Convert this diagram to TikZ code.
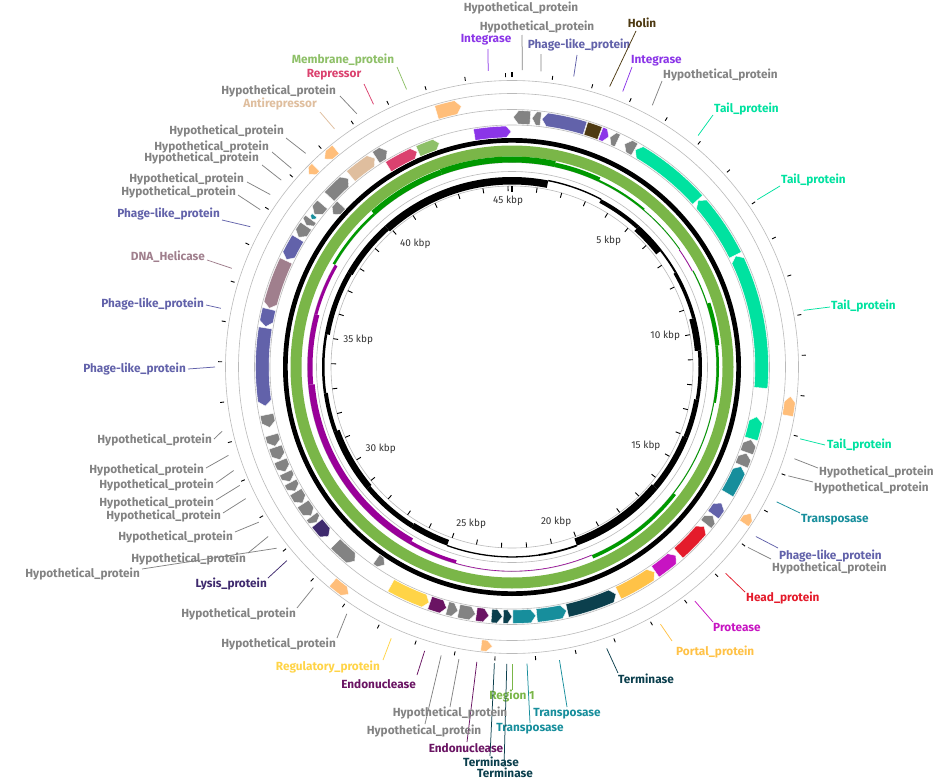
\documentclass[tikz,border=0pt]{standalone}
\usepackage{fontspec}
\setmainfont{Fira Sans}
\definecolor{cTail}{HTML}{00E2A0}
\definecolor{cHyp}{HTML}{838383}
\definecolor{cPhage}{HTML}{6262AA}
\definecolor{cHolin}{HTML}{4E3A12}
\definecolor{cInteg}{HTML}{8B35E8}
\definecolor{cTransp}{HTML}{178E9C}
\definecolor{cHead}{HTML}{E41B2B}
\definecolor{cProt}{HTML}{C714C2}
\definecolor{cPortal}{HTML}{FFC247}
\definecolor{cTerm}{HTML}{0B3F4D}
\definecolor{cEndo}{HTML}{6A1463}
\definecolor{cRegul}{HTML}{FFD447}
\definecolor{cLysis}{HTML}{3F2A6E}
\definecolor{cHelic}{HTML}{A07F8D}
\definecolor{cAntir}{HTML}{DFBE9E}
\definecolor{cRepr}{HTML}{DB426F}
\definecolor{cMembr}{HTML}{8EC068}
\definecolor{cRegion}{HTML}{7AB648}
\definecolor{cOrange}{HTML}{FFBE7A}
\definecolor{cSkP}{HTML}{009900}
\definecolor{cSkN}{HTML}{990099}
\tikzset{
  circ/.style={draw=black!27, line width=0.6pt},
  tickm/.style={line width=0.9pt, draw=black},
  leader/.style={line width=0.75pt},
  lbl/.style={font=\fontsize{11.8}{13}\selectfont\bfseries, inner sep=1pt},
  kbp/.style={font=\fontsize{10}{12}\selectfont, text=black!80, inner sep=1pt},
  featsty/.style={draw=white, line width=0.4pt}
}
% feature: color, th1, th2, rin, rout, dir (1 fwd, -1 rev, 0 none)
\newcommand\feat[6]{%
  \pgfmathsetmacro\fa{#2-90}%
  \pgfmathsetmacro\fb{#3-90}%
  \pgfmathsetmacro\fm{(#4+#5)/2}%
  \pgfmathsetmacro\fh{min(1.2,(#3-#2)*0.5)}%
  \ifnum#6=1\relax
    \pgfmathsetmacro\ft{\fb-\fh}%
    \filldraw[featsty,fill=#1] (\fa:#5) arc[start angle=\fa,end angle=\ft,radius=#5] -- (\fb:\fm) -- (\ft:#4) arc[start angle=\ft,end angle=\fa,radius=#4] -- cycle;
  \else
    \ifnum#6=-1\relax
      \pgfmathsetmacro\ft{\fa+\fh}%
      \filldraw[featsty,fill=#1] (\ft:#5) arc[start angle=\ft,end angle=\fb,radius=#5] -- (\fb:#4) arc[start angle=\fb,end angle=\ft,radius=#4] -- (\fa:\fm) -- cycle;
    \else
      \filldraw[featsty,fill=#1] (\fa:#5) arc[start angle=\fa,end angle=\fb,radius=#5] -- (\fb:#4) arc[start angle=\fb,end angle=\fa,radius=#4] -- cycle;
    \fi
  \fi}
% plot segment: color, th1, th2, rin, rout
\newcommand\segm[5]{%
  \pgfmathsetmacro\fa{#2-90}%
  \pgfmathsetmacro\fb{#3-90}%
  \fill[#1] (\fa:#5) arc[start angle=\fa,end angle=\fb,radius=#5] -- (\fb:#4) arc[start angle=\fb,end angle=\fa,radius=#4] -- cycle;}
% label: name, color, theta, endx, endy, anchor, lx, ly, text
\newcommand\lab[9]{%
  \pgfmathsetmacro\lsx{512+297*sin(#3)}%
  \pgfmathsetmacro\lsy{367-297*cos(#3)}%
  \coordinate (#1s) at (\lsx,\lsy);
  \coordinate (#1e) at (#4,#5);
  \draw[leader,#2] (#1s) -- (#1e);
  \node[lbl,text=#2,anchor=#6] (#1) at (#7,#8) {#9};}
\def\ra{243}\def\rb{256.5}
\def\rc{229.5}\def\rd{241}
\begin{document}
\begin{tikzpicture}[x=1pt,y=-1pt]
\useasboundingbox (0,0) rectangle (951,779);
\fill[white] (0,0) rectangle (951,779);
\begin{scope}[shift={(512,367)}]
  % guide circles
  \foreach \r in {286.5,273.5,257.5,242,204.5,195.5,181}{\draw[circ] (0,0) circle[radius=\r];}
  % backbone and region ring
  \fill[black,even odd rule] (0,0) circle[radius=229] (0,0) circle[radius=224.3];
  \fill[cRegion,even odd rule] (0,0) circle[radius=221.5] (0,0) circle[radius=210.5];
  % ticks
  \foreach \k in {0,...,45}{%
    \pgfmathsetmacro\ta{\k*360/45.16-90}%
    \draw[tickm] (\ta:290) -- (\ta:294);
    \draw[tickm] (\ta:181) -- (\ta:176);}
  \draw[line width=1.6pt] (-90:290) -- (-90:295.5);
  \draw[line width=1.6pt] (-90:181) -- (-90:175);
  % kbp labels
  \foreach \k/\anc in {5/north east,10/east,15/south east,20/south east,25/south west,30/south west,35/west,40/north west,45/north}{%
    \pgfmathsetmacro\ta{\k*360/45.16-90}%
    \node[kbp,anchor=\anc] (k\k) at (\ta:172) {\k\ kbp};}
  % ring 3
  \feat{cHyp}{0.3}{4.2}{\ra}{\rb}{-1}
  \feat{cHyp}{4.6}{6.6}{\ra}{\rb}{-1}
  \feat{cPhage}{6.9}{17}{\ra}{\rb}{-1}
  \feat{cHolin}{17.2}{20.6}{\ra}{\rb}{0}
  \feat{cInteg}{20.8}{22.8}{\ra}{\rb}{1}
  \feat{cHyp}{23.1}{25}{\ra}{\rb}{-1}
  \feat{cHyp}{26.8}{29.4}{\ra}{\rb}{-1}
  \feat{cTail}{29.6}{48}{\ra}{\rb}{-1}
  \feat{cTail}{48.2}{63.4}{\ra}{\rb}{-1}
  \feat{cTail}{63.6}{94.8}{\ra}{\rb}{-1}
  \feat{cTail}{101.5}{106.7}{\ra}{\rb}{-1}
  \feat{cHyp}{106.9}{110}{\ra}{\rb}{-1}
  \feat{cHyp}{110.2}{113.2}{\ra}{\rb}{-1}
  \feat{cTransp}{113.5}{120.4}{\ra}{\rb}{-1}
  \feat{cPhage}{123}{126.3}{\ra}{\rb}{-1}
  \feat{cHyp}{126.5}{129}{\ra}{\rb}{-1}
  \feat{cHead}{129.7}{138.2}{\ra}{\rb}{-1}
  \feat{cProt}{139}{145}{\ra}{\rb}{-1}
  \feat{cPortal}{145.2}{154.8}{\ra}{\rb}{-1}
  \feat{cTerm}{155.4}{167.2}{\ra}{\rb}{-1}
  \feat{cTransp}{167.4}{174.3}{\ra}{\rb}{-1}
  \feat{cTransp}{174.5}{179.8}{\ra}{\rb}{-1}
  \feat{cTerm}{180}{182}{\ra}{\rb}{-1}
  \feat{cTerm}{182.2}{184.7}{\ra}{\rb}{-1}
  \feat{cEndo}{185.3}{188.2}{\ra}{\rb}{-1}
  \feat{cHyp}{188.4}{192.3}{\ra}{\rb}{-1}
  \feat{cHyp}{192.5}{195}{\ra}{\rb}{-1}
  \feat{cEndo}{195.2}{199.2}{\ra}{\rb}{-1}
  \feat{cRegul}{199.4}{209}{\ra}{\rb}{-1}
  \feat{cHyp}{219}{225}{\ra}{\rb}{-1}
  \feat{cLysis}{227.3}{231.3}{\ra}{\rb}{-1}
  \feat{cHyp}{231.5}{233.3}{\ra}{\rb}{-1}
  \feat{cHyp}{233.5}{236.8}{\ra}{\rb}{-1}
  \feat{cHyp}{237}{240}{\ra}{\rb}{-1}
  \feat{cHyp}{240.2}{242.5}{\ra}{\rb}{-1}
  \feat{cHyp}{242.7}{245}{\ra}{\rb}{-1}
  \feat{cHyp}{245.2}{248}{\ra}{\rb}{-1}
  \feat{cHyp}{248.2}{251.3}{\ra}{\rb}{-1}
  \feat{cHyp}{251.5}{254.2}{\ra}{\rb}{-1}
  \feat{cHyp}{256}{259}{\ra}{\rb}{-1}
  \feat{cPhage}{261}{279}{\ra}{\rb}{-1}
  \feat{cPhage}{279.3}{283.4}{\ra}{\rb}{-1}
  \feat{cHelic}{283.6}{295.2}{\ra}{\rb}{-1}
  \feat{cPhage}{295.5}{301}{\ra}{\rb}{-1}
  \feat{cHyp}{301.3}{304.4}{\ra}{\rb}{-1}
  \feat{cHyp}{304.6}{306.3}{\ra}{\rb}{-1}
  \feat{cTransp}{306.4}{307.5}{246}{252}{-1}
  \feat{cHyp}{307.7}{310.6}{\ra}{\rb}{-1}
  \feat{cHyp}{313}{319}{\ra}{\rb}{1}
  \feat{cAntir}{319.8}{326.7}{\ra}{\rb}{1}
  \feat{cHyp}{327}{330}{\ra}{\rb}{1}
  % ring 4
  \feat{cInteg}{350.8}{359.8}{\rc}{\rd}{1}
  \feat{cMembr}{336.5}{342}{\rc}{\rd}{1}
  \feat{cRepr}{328.3}{336.2}{\rc}{\rd}{1}
  \feat{cHyp}{310.5}{313.5}{\rc}{\rd}{-1}
  \feat{cHyp}{212.8}{215.2}{\rc}{\rd}{-1}
  % ring 2 and ring 1 (orange)
  \feat{cOrange}{343.5}{349}{258.5}{272.5}{1}
  \feat{cOrange}{96}{100}{274.5}{285.5}{-1}
  \feat{cOrange}{121.5}{124}{274.5}{285.5}{-1}
  \feat{cOrange}{184}{186.3}{274.5}{285.5}{-1}
  \feat{cOrange}{215.7}{219.8}{274.5}{285.5}{-1}
  \feat{cOrange}{313.5}{315.5}{274.5}{285.5}{-1}
  \feat{cOrange}{318}{321}{274.5}{285.5}{-1}
  % GC skew
  \segm{cSkP}{300}{318}{204.5}{207}
  \segm{cSkP}{318}{340}{204.5}{210}
  \segm{cSkP}{340}{360}{204.5}{210.5}
  \segm{cSkP}{0}{12}{204.5}{210.5}
  \segm{cSkP}{12}{25}{204.5}{209}
  \segm{cSkP}{25}{40}{204.5}{206.5}
  \segm{cSkP}{40}{55}{204.5}{205.3}
  \segm{cSkP}{62}{72}{204.5}{205.5}
  \segm{cSkP}{72}{84}{204.5}{208.5}
  \segm{cSkP}{84}{100}{204.5}{207}
  \segm{cSkP}{100}{128}{204.5}{205.4}
  \segm{cSkP}{128}{157}{204.5}{208}
  \segm{cSkN}{55}{62}{203.8}{204.5}
  \segm{cSkN}{157}{196}{203.9}{204.5}
  \segm{cSkN}{196}{210}{201}{204.5}
  \segm{cSkN}{210}{265}{198}{204.5}
  \segm{cSkN}{265}{285}{199.5}{204.5}
  \segm{cSkN}{285}{300}{201.5}{204.5}
  % GC content
  \segm{black}{0}{11}{182.5}{190}
  \segm{black}{11}{28}{189.2}{190.6}
  \segm{black}{28}{42}{186}{190}
  \segm{black}{42}{52}{183}{190}
  \segm{black}{52}{60}{188}{190}
  \segm{black}{60}{75}{186.5}{190}
  \segm{black}{75}{85}{183.5}{190}
  \segm{black}{85}{100}{186.5}{190}
  \segm{black}{100}{112}{185}{190}
  \segm{black}{112}{130}{184}{190}
  \segm{black}{130}{160}{182.5}{190}
  \segm{black}{160}{172}{189}{190.8}
  \segm{black}{172}{200}{189.3}{190.6}
  \segm{black}{200}{212}{184}{190}
  \segm{black}{212}{230}{185}{190}
  \segm{black}{230}{250}{183.5}{190}
  \segm{black}{250}{262}{186}{190}
  \segm{black}{262}{280}{187.5}{190}
  \segm{black}{280}{300}{185}{190}
  \segm{black}{300}{318}{184}{190}
  \segm{black}{318}{360}{182.5}{190}
\end{scope}
% labels
\lab{ta}{cHyp}{5.6}{541}{54}{center}{521}{8}{Hypothetical\_protein}
\lab{tb}{cHyp}{2.0}{522}{35}{center}{537}{27}{Hypothetical\_protein}
\lab{tc}{cInteg}{355.4}{488}{49}{center}{486}{40}{Integrase}
\lab{td}{cPhage}{12}{577}{55}{center}{579}{45}{Phage-like\_protein}
\lab{te}{cHolin}{19.2}{636}{31}{center}{642}{23}{Holin}
\lab{tf}{cInteg}{21.9}{632}{67}{west}{630}{61}{Integrase}
\lab{tg}{cHyp}{28.2}{662}{81}{west}{662}{75}{Hypothetical\_protein}
\lab{ra}{cTail}{38.8}{713}{115}{west}{713}{109}{Tail\_protein}
\lab{rb}{cTail}{55.7}{780}{186}{west}{780}{180}{Tail\_protein}
\lab{rc}{cTail}{79}{830}{307}{west}{830}{306}{Tail\_protein}
\lab{rd}{cTail}{104}{825}{445}{west}{826}{445}{Tail\_protein}
\lab{re}{cHyp}{108}{818}{468}{west}{818}{472}{Hypothetical\_protein}
\lab{rf}{cHyp}{111.5}{813}{482}{west}{813}{488}{Hypothetical\_protein}
\lab{rg}{cTransp}{117}{800}{513}{west}{800}{520}{Transposase}
\lab{rh}{cPhage}{124.8}{778}{548}{west}{778}{556}{Phage-like\_protein}
\lab{ri}{cHyp}{127.4}{771}{559}{west}{771}{568}{Hypothetical\_protein}
\lab{rj}{cHead}{134}{745}{592}{west}{745}{598}{Head\_protein}
\lab{rk}{cProt}{142}{713}{622}{west}{712}{628}{Protease}
\lab{rl}{cPortal}{150}{672}{641}{west}{675}{652}{Portal\_protein}
\lab{rm}{cTerm}{161.4}{618}{673}{west}{617}{679}{Terminase}
\lab{ba}{cTransp}{170.8}{567}{707}{center}{567}{714}{Transposase}
\lab{bb}{cTransp}{177.1}{530}{723}{center}{530}{729}{Transposase}
\lab{bc}{cRegion}{180}{512}{690}{center}{512}{696}{Region 1}
\lab{bd}{cTerm}{181}{504}{767}{center}{505}{773}{Terminase}
\lab{be}{cTerm}{183.4}{490}{756}{center}{491}{762}{Terminase}
\lab{bf}{cEndo}{186.8}{467}{742}{center}{466}{748}{Endonuclease}
\lab{bg}{cHyp}{190.3}{450}{707}{center}{450}{713}{Hypothetical\_protein}
\lab{bh}{cHyp}{193.8}{425}{724}{center}{424}{731}{Hypothetical\_protein}
\lab{bi}{cEndo}{197.1}{417}{675}{east}{417}{684}{Endonuclease}
\lab{bj}{cRegul}{204}{383}{660}{east}{381}{667}{Regulatory\_protein}
\lab{la}{cHyp}{213.8}{337}{638}{east}{337}{644}{Hypothetical\_protein}
\lab{lb}{cHyp}{222}{297}{608}{east}{297}{614}{Hypothetical\_protein}
\lab{lc}{cLysis}{229.3}{268}{578}{east}{268}{584}{Lysis\_protein}
\lab{ld}{cHyp}{232.4}{142}{569}{east}{141}{574}{Hypothetical\_protein}
\lab{le}{cHyp}{235.2}{248}{553}{east}{247}{559}{Hypothetical\_protein}
\lab{lf}{cHyp}{238.5}{235}{532}{east}{234}{537}{Hypothetical\_protein}
\lab{lg}{cHyp}{243.7}{223}{513}{east}{222}{516}{Hypothetical\_protein}
\lab{lh}{cHyp}{246.5}{216}{500}{east}{215}{503}{Hypothetical\_protein}
\lab{li}{cHyp}{249.6}{216}{483}{east}{215}{485}{Hypothetical\_protein}
\lab{lj}{cHyp}{252.7}{206}{468}{east}{205}{470}{Hypothetical\_protein}
\lab{lk}{cHyp}{257.5}{214}{439}{east}{213}{440}{Hypothetical\_protein}
\lab{ll}{cPhage}{270}{188}{369}{east}{187}{369}{Phage-like\_protein}
\lab{lm}{cPhage}{281.4}{206}{305}{east}{205}{304}{Phage-like\_protein}
\lab{ln}{cHelic}{289.4}{207}{260}{east}{206}{257}{DNA\_Helicase}
\lab{lo}{cPhage}{298.2}{222}{220}{east}{221}{214}{Phage-like\_protein}
\lab{lp}{cHyp}{302}{238}{195}{east}{237}{192}{Hypothetical\_protein}
\lab{lq}{cHyp}{305.5}{247}{182}{east}{245}{179}{Hypothetical\_protein}
\lab{lr}{cHyp}{309}{262}{165}{east}{260}{158}{Hypothetical\_protein}
\lab{ls}{cHyp}{312}{272}{152}{east}{270}{147}{Hypothetical\_protein}
\lab{lt}{cHyp}{316}{286}{138}{east}{285}{131}{Hypothetical\_protein}
\lab{lu}{cAntir}{323.3}{320}{112}{east}{318}{104}{Antirepressor}
\lab{lv}{cHyp}{328.5}{340}{96}{east}{337}{91}{Hypothetical\_protein}
\lab{lw}{cRepr}{332.2}{364}{84}{center}{334}{75}{Repressor}
\lab{lx}{cMembr}{339.2}{397}{67}{center}{343}{60}{Membrane\_protein}
\end{tikzpicture}
\end{document}
